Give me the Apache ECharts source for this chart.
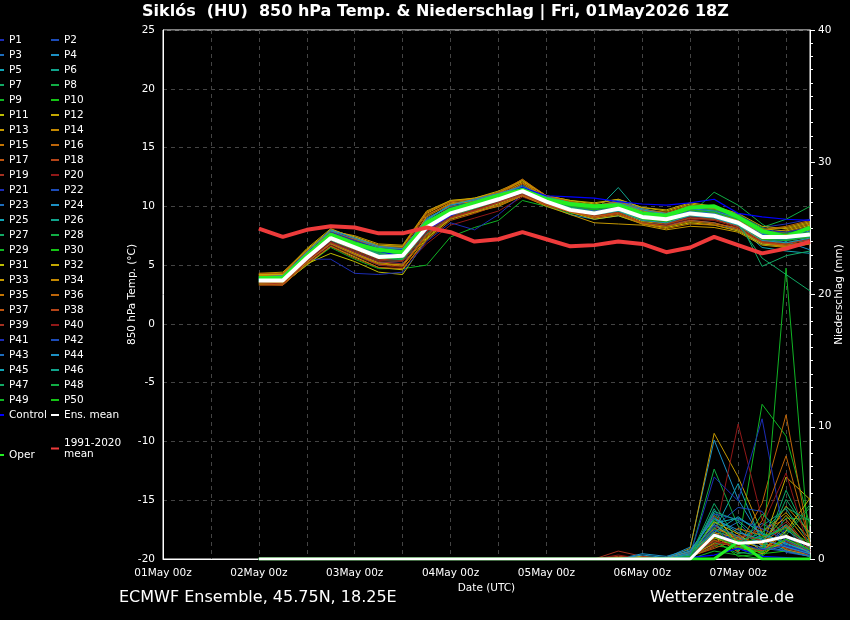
<!DOCTYPE html>
<html><head><meta charset="utf-8">
<script src="https://cdn.jsdelivr.net/npm/echarts@6/dist/echarts.min.js"></script>
<style>html,body{margin:0;padding:0;background:#000}#c{width:850px;height:620px}</style>
</head><body><div id="c"></div>
<script>
// forecast hours since 01May 00z
const hours = [24,30,36,42,48,54,60,66,72,78,84,90,96,102,108,114,120,126,132,138,144,150,156,162];
const xTickLabels = ['01May 00z','02May 00z','03May 00z','04May 00z','05May 00z','06May 00z','07May 00z'];

const tempMean = [3.7,3.7,5.6,7.3,6.5,5.7,5.8,8.2,9.4,10.0,10.6,11.3,10.4,9.7,9.4,9.8,9.1,8.9,9.4,9.2,8.6,7.4,7.4,7.6];
const tempOper = [3.9,3.9,5.8,7.6,6.8,6.3,6.1,8.6,9.7,10.3,10.9,11.4,10.6,10.2,10.0,10.1,9.4,9.2,9.9,10.0,9.1,7.9,7.4,8.2];
const tempControl = [3.8,3.8,5.7,7.5,6.9,6.2,5.7,8.0,9.2,10.1,10.8,11.6,10.9,10.8,10.7,10.4,10.2,10.1,10.3,10.6,9.4,9.1,8.9,8.8];
const tempClim = [8.1,7.4,8.0,8.3,8.2,7.7,7.7,8.2,7.8,7.0,7.2,7.8,7.2,6.6,6.7,7.0,6.8,6.1,6.5,7.4,6.7,6.0,6.4,7.0];

const tempMembers = [
[3.9,3.8,5.9,7.9,7.2,6.4,6.0,8.6,9.6,10.2,10.8,11.5,10.6,10.0,9.7,9.9,9.3,9.0,9.6,9.3,8.7,7.6,7.2,7.5],
[3.6,3.6,5.4,7.0,6.1,5.2,5.3,7.8,9.2,9.9,10.5,11.2,10.3,9.5,9.1,9.6,8.8,8.6,9.1,9.0,8.4,7.2,6.9,7.1],
[4.0,4.1,6.1,8.0,7.4,6.6,6.3,9.0,10.0,10.4,11.0,11.8,10.8,10.3,10.0,10.4,9.6,9.4,9.9,9.7,8.9,7.9,7.7,8.0],
[3.5,3.5,5.2,6.8,5.9,5.0,5.1,7.6,9.0,9.6,10.3,11.0,10.1,9.3,8.9,9.2,8.6,8.4,8.8,8.6,8.0,6.8,6.6,6.9],
[4.1,4.2,6.2,7.8,7.0,6.3,6.4,8.8,10.2,10.6,11.1,11.6,10.7,10.1,9.8,10.2,9.5,9.2,9.7,9.5,8.8,7.5,7.3,7.8],
[3.7,3.6,5.6,7.4,6.6,5.8,5.9,8.3,9.5,10.1,10.7,11.4,10.5,9.8,9.5,11.6,9.2,8.5,9.4,9.1,8.5,7.3,7.1,7.4],
[3.8,3.9,5.8,7.6,6.8,6.1,6.2,8.5,9.7,10.3,10.9,11.3,10.4,9.9,9.6,10.0,9.0,8.9,9.5,9.4,8.7,7.4,7.5,7.7],
[3.6,3.7,5.5,7.2,6.4,5.6,5.6,8.1,9.3,9.9,10.6,11.2,10.2,9.6,9.3,9.7,8.9,8.7,9.3,11.2,10.1,8.5,7.2,7.0],
[3.4,3.4,5.0,6.5,5.5,4.7,4.7,5.0,7.4,8.2,8.8,10.5,10.0,9.4,9.2,9.6,8.8,8.6,9.2,9.0,8.4,7.0,7.2,7.3],
[3.9,4.0,6.0,7.7,7.0,6.4,6.2,8.7,9.9,10.4,10.9,11.6,10.7,10.0,9.7,10.1,9.2,9.1,9.7,9.6,9.0,7.9,7.6,8.0],
[3.3,3.3,5.1,6.0,5.3,4.4,4.2,7.2,9.0,9.6,10.2,11.0,10.2,9.6,9.1,9.5,8.7,8.5,9.0,8.9,8.3,7.1,6.8,7.2],
[4.2,4.3,6.4,8.1,7.3,6.6,6.6,9.4,10.4,10.7,11.2,12.1,10.9,10.5,10.3,10.6,9.9,9.6,10.2,9.9,9.3,8.1,7.9,8.4],
[4.3,4.4,6.3,7.9,7.5,6.8,6.7,9.6,10.5,10.6,11.1,12.3,10.8,10.4,10.1,10.3,9.7,9.4,10.0,9.8,9.1,8.0,8.2,8.7],
[4.1,4.2,6.0,7.5,6.7,5.9,5.7,9.2,10.3,10.5,11.0,12.2,10.6,10.2,9.9,10.4,9.8,9.3,9.9,9.6,9.0,7.7,8.0,8.5],
[3.5,3.4,5.3,6.9,6.0,5.1,5.0,7.5,9.1,9.7,10.4,11.1,10.3,9.7,9.2,9.4,8.6,8.3,8.7,8.5,8.2,7.0,6.7,7.0],
[4.0,4.1,5.9,7.4,6.7,6.0,5.9,8.9,10.0,10.2,10.8,11.9,10.6,10.1,9.8,10.2,9.4,9.1,9.6,9.4,8.6,7.5,7.8,8.3],
[4.2,4.3,6.2,7.8,7.1,6.5,6.4,9.3,10.2,10.5,11.1,12.0,10.8,10.3,10.0,10.5,9.7,9.3,9.8,9.7,9.0,7.8,7.5,8.1],
[3.6,3.5,5.4,7.1,6.3,5.5,5.4,7.9,9.2,9.8,10.4,11.3,10.4,9.7,9.3,9.6,8.9,8.8,9.2,9.1,8.5,7.2,6.5,6.9],
[3.7,3.6,5.7,7.3,6.5,5.7,5.6,8.0,9.3,9.9,10.5,11.2,10.3,9.6,9.4,9.8,9.0,8.7,9.3,9.2,8.6,7.1,6.4,6.8],
[3.3,3.3,5.2,6.7,5.8,5.0,4.8,6.8,8.4,9.0,9.6,10.8,10.1,9.5,9.0,9.4,8.6,8.4,8.9,8.8,8.2,6.9,6.6,7.1],
[3.8,3.7,5.5,5.5,4.3,4.2,4.4,7.0,8.6,8.0,9.3,11.0,10.6,10.2,10.0,10.3,9.5,9.3,9.8,10.0,9.3,8.2,8.5,8.9],
[3.9,3.8,5.8,7.7,6.9,6.2,6.1,8.4,9.6,10.2,10.7,11.4,10.6,10.0,9.6,9.9,9.2,9.0,9.5,9.3,8.7,7.5,7.4,7.6],
[3.7,3.8,5.7,7.6,6.8,6.0,5.8,8.3,9.5,10.2,10.7,11.3,10.5,9.9,9.5,9.7,9.1,8.9,9.4,9.1,8.6,7.3,6.9,7.2],
[4.0,4.0,6.1,7.9,7.2,6.5,6.3,8.8,10.1,10.5,11.0,11.6,10.8,10.3,9.9,10.5,9.8,9.4,9.8,9.5,8.9,7.7,7.0,6.3],
[3.6,3.6,5.5,7.3,6.5,5.6,5.5,8.0,9.3,10.0,10.6,11.2,10.4,9.8,9.4,9.7,9.0,8.8,9.3,9.0,8.3,6.5,6.2,6.0],
[3.8,3.8,5.7,7.5,6.7,6.0,5.9,8.4,9.6,10.1,10.7,11.4,10.5,9.9,9.6,10.0,9.3,9.0,9.6,9.4,8.8,7.6,7.3,7.5],
[3.5,3.6,5.5,7.1,6.2,5.4,5.3,7.7,9.1,9.8,10.4,11.1,10.3,9.7,9.3,9.6,8.9,8.7,9.3,9.2,8.9,4.9,5.8,6.2],
[3.9,4.0,5.9,7.6,6.9,6.3,6.2,8.6,9.8,10.3,10.8,11.5,10.6,10.1,9.8,10.1,9.3,9.2,9.8,9.7,9.2,8.2,8.9,10.0],
[3.7,3.7,5.6,7.4,6.6,5.8,5.8,8.2,9.4,10.0,10.6,11.3,10.4,9.8,9.4,9.8,9.1,8.9,9.4,9.2,8.6,7.4,7.3,7.6],
[3.8,3.8,5.8,7.5,6.7,5.9,6.0,8.4,9.6,10.1,10.7,11.4,10.5,9.8,9.5,9.9,9.2,9.0,9.5,9.3,8.7,7.5,7.4,7.7],
[3.4,3.4,5.0,6.6,5.7,4.8,4.6,7.3,8.9,9.5,10.1,10.9,10.2,9.5,8.9,9.2,8.5,8.2,8.6,8.4,7.9,6.8,6.6,6.9],
[4.2,4.2,6.3,8.0,7.4,6.7,6.6,9.5,10.5,10.7,11.3,12.2,10.9,10.5,10.2,10.6,9.9,9.7,10.3,10.0,9.4,8.3,8.1,8.6],
[3.5,3.5,5.2,6.9,6.0,5.2,5.0,7.6,9.0,9.5,10.0,10.9,10.0,9.3,8.6,8.5,8.4,8.0,8.3,8.2,7.8,6.7,6.5,6.8],
[4.1,4.1,6.0,7.6,6.9,6.2,6.1,9.1,10.2,10.4,10.9,12.0,10.7,10.2,9.9,10.3,9.6,9.2,9.7,9.5,8.8,7.7,7.6,8.0],
[3.6,3.5,5.3,6.8,5.9,5.1,4.9,7.4,9.0,9.6,10.3,11.0,10.2,9.6,9.0,9.3,8.5,8.1,8.5,8.4,8.0,6.9,6.6,6.9],
[4.3,4.3,6.2,7.8,7.2,6.6,6.5,9.5,10.4,10.6,11.2,12.3,10.9,10.4,10.0,10.4,9.7,9.5,10.1,9.8,9.2,8.0,8.3,8.8],
[3.4,3.3,5.1,6.6,5.6,4.8,4.7,7.1,8.8,9.4,10.1,10.9,10.1,9.5,9.1,9.4,8.6,8.3,8.8,8.6,8.1,6.9,6.7,7.0],
[3.9,4.0,5.8,7.4,6.6,5.9,5.8,8.6,9.8,10.2,10.8,11.6,10.5,10.0,9.6,10.0,9.3,9.0,9.5,9.3,8.7,7.4,7.4,7.8],
[3.5,3.4,5.3,6.9,6.1,5.3,5.1,7.6,9.0,9.6,10.3,11.0,10.2,9.6,9.2,9.5,8.8,8.5,9.0,8.9,8.3,7.0,6.8,7.2],
[3.6,3.6,5.4,7.0,6.2,5.4,5.3,7.8,9.1,9.7,10.4,11.1,10.3,9.7,9.3,9.7,9.0,8.6,9.1,9.0,8.5,7.1,6.9,7.3],
[3.9,3.9,5.9,7.8,7.1,6.4,6.3,8.7,9.9,10.4,10.9,11.6,10.8,10.2,9.9,10.1,9.5,9.3,9.8,9.6,9.1,8.0,7.8,8.2],
[3.7,3.7,5.6,7.5,6.6,5.8,5.7,8.1,9.4,10.1,10.6,11.3,10.4,9.9,9.5,9.8,9.0,8.8,9.4,9.2,8.5,7.3,7.1,7.4],
[3.8,3.9,5.8,7.7,6.9,6.1,6.0,8.5,9.7,10.3,10.8,11.4,10.6,10.0,9.6,10.0,9.4,9.1,9.6,9.4,8.7,7.6,7.3,7.6],
[4.0,4.1,6.1,8.0,7.3,6.6,6.4,8.9,10.1,10.6,11.1,11.7,10.8,10.3,9.9,10.3,9.7,9.3,9.8,9.6,9.0,7.7,7.5,7.9],
[3.6,3.7,5.5,7.3,6.4,5.6,5.5,8.0,9.3,9.9,10.5,11.2,10.3,9.7,9.3,9.6,8.8,8.6,9.2,9.0,8.4,7.1,6.9,7.3],
[3.7,3.8,5.7,7.5,6.7,5.9,5.8,8.3,9.5,10.1,10.6,11.3,10.5,9.9,9.5,9.9,9.2,8.9,9.5,9.3,8.7,7.4,7.2,7.5],
[3.8,3.8,5.7,7.4,6.7,6.0,5.9,8.4,9.6,10.2,10.7,11.4,10.5,9.9,9.5,9.8,9.1,8.9,9.5,9.6,8.5,5.6,4.2,2.8],
[3.7,3.6,5.6,7.3,6.5,5.7,5.6,8.2,9.4,10.0,10.6,11.3,10.4,9.8,9.4,9.8,9.1,8.8,9.4,9.2,8.6,7.3,7.5,7.8],
[3.9,3.9,5.9,7.6,6.8,6.1,6.1,8.5,9.7,10.2,10.8,11.5,10.6,10.0,9.7,10.0,9.3,9.1,9.7,9.5,8.9,7.8,7.7,8.1],
[3.6,3.6,5.5,7.2,6.4,5.6,5.5,8.0,9.3,9.9,10.5,11.2,10.3,9.7,9.3,9.7,8.9,8.7,9.3,9.1,8.5,7.2,7.1,7.4]
];

const precipMean = [0,0,0,0,0,0,0,0,0,0,0,0,0,0,0,0,0,0,0,1.8,1.2,1.3,1.7,1.05];
const precipOper = [0,0,0,0,0,0,0,0,0,0,0,0,0,0,0,0,0,0,0,0,1.3,0,0,0];
const precipControl = [0,0,0,0,0,0,0,0,0,0,0,0,0,0,0,0,0,0,0.1,0.3,0.8,0.2,0.1,0];

const precipMembers = [
[0,0,0,0,0,0,0,0,0,0,0,0,0,0,0,0,0,0,0.2,2.5,1.5,0.8,1.2,0.4],
[0,0,0,0,0,0,0,0,0,0,0,0,0,0,0,0,0,0,0.4,3.2,0.6,1.9,0.5,0.2],
[0,0,0,0,0,0,0,0,0,0,0,0,0,0,0,0,0.1,0,0.3,1.8,2.8,0.9,2.2,1.0],
[0,0,0,0,0,0,0,0,0,0,0,0,0,0,0,0,0,0.1,0.9,9.0,4.5,1.5,1.0,0.5],
[0,0,0,0,0,0,0,0,0,0,0,0,0,0,0,0,0,0,0.5,2.1,5.7,1.2,0.7,0.3],
[0,0,0,0,0,0,0,0,0,0,0,0,0,0,0,0,0,0,0.2,3.5,1.0,2.5,3.8,1.2],
[0,0,0,0,0,0,0,0,0,0,0,0,0,0,0,0,0,0,0.1,2.9,0.5,0.3,5.2,1.5],
[0,0,0,0,0,0,0,0,0,0,0,0,0,0,0,0,0,0,0.3,6.8,2.5,1.0,2.0,4.1],
[0,0,0,0,0,0,0,0,0,0,0,0,0,0,0,0,0,0,0.2,1.2,1.0,11.7,9.3,2.5],
[0,0,0,0,0,0,0,0,0,0,0,0,0,0,0,0,0,0,0,1.5,0.2,0.4,0.6,0.2],
[0,0,0,0,0,0,0,0,0,0,0,0,0,0,0,0.1,0.2,0,0.6,2.0,1.1,0.6,1.5,0.6],
[0,0,0,0,0,0,0,0,0,0,0,0,0,0,0,0,0,0,0.4,2.6,1.3,0.9,6.2,4.5],
[0,0,0,0,0,0,0,0,0,0,0,0,0,0,0,0,0.1,0,0.8,9.5,6.2,2.0,3.5,1.5],
[0,0,0,0,0,0,0,0,0,0,0,0,0,0,0,0,0,0.1,0.3,1.7,0.8,0.5,2.6,0.9],
[0,0,0,0,0,0,0,0,0,0,0,0,0,0,0,0,0,0,0.2,2.3,1.7,1.1,0.9,0.3],
[0,0,0,0,0,0,0,0,0,0,0,0,0,0,0,0,0,0,0.1,1.4,0.9,4.2,10.9,1.0],
[0,0,0,0,0,0,0,0,0,0,0,0,0,0,0,0,0,0,0.3,1.1,1.6,2.2,3.0,0.7],
[0,0,0,0,0,0,0,0,0,0,0,0,0,0,0,0.2,0.1,0,0.2,0.9,2.0,1.4,0.8,0.4],
[0,0,0,0,0,0,0,0,0,0,0,0,0,0,0,0.6,0.2,0,0.4,1.6,1.1,0.7,1.3,0.5],
[0,0,0,0,0,0,0,0,0,0,0,0,0,0,0,0,0,0,0.2,1.5,10.2,3.0,1.0,0.3],
[0,0,0,0,0,0,0,0,0,0,0,0,0,0,0,0,0,0,0.3,6.2,4.4,10.6,1.0,0.5],
[0,0,0,0,0,0,0,0,0,0,0,0,0,0,0,0,0,0,0.4,2.4,3.9,3.6,0.9,0.4],
[0,0,0,0,0,0,0,0,0,0,0,0,0,0,0,0,0.1,0,0.5,1.9,1.3,2.7,1.6,0.8],
[0,0,0,0,0,0,0,0,0,0,0,0,0,0,0,0,0.4,0.2,0.7,3.0,2.2,1.0,0.6,0.2],
[0,0,0,0,0,0,0,0,0,0,0,0,0,0,0,0,0.1,0,0.3,2.7,3.1,2.0,1.1,0.6],
[0,0,0,0,0,0,0,0,0,0,0,0,0,0,0,0,0,0,0.2,3.8,0.7,1.6,2.4,0.3],
[0,0,0,0,0,0,0,0,0,0,0,0,0,0,0,0,0,0,0.1,2.2,1.4,0.5,4.5,1.9],
[0,0,0,0,0,0,0,0,0,0,0,0,0,0,0,0,0,0,0.2,1.3,0.4,0.8,3.1,3.0],
[0,0,0,0,0,0,0,0,0,0,0,0,0,0,0,0,0,0,0,0.6,0.3,0,22.0,0],
[0,0,0,0,0,0,0,0,0,0,0,0,0,0,0,0,0,0,0.1,1.0,0.8,0.2,1.8,0.6],
[0,0,0,0,0,0,0,0,0,0,0,0,0,0,0,0,0,0,0.3,2.8,1.9,0.6,2.1,4.6],
[0,0,0,0,0,0,0,0,0,0,0,0,0,0,0,0,0,0,0.2,1.6,0.9,1.3,3.3,1.1],
[0,0,0,0,0,0,0,0,0,0,0,0,0,0,0,0,0,0.1,0.5,3.3,1.2,0.4,1.4,0.5],
[0,0,0,0,0,0,0,0,0,0,0,0,0,0,0,0,0,0,0.2,2.0,1.6,1.1,4.0,2.0],
[0,0,0,0,0,0,0,0,0,0,0,0,0,0,0,0,0,0,0.1,1.2,2.3,1.8,0.7,0.3],
[0,0,0,0,0,0,0,0,0,0,0,0,0,0,0,0,0,0,0.3,1.8,0.5,2.9,7.8,1.2],
[0,0,0,0,0,0,0,0,0,0,0,0,0,0,0,0,0,0,0.2,0.8,1.5,1.2,2.5,0.6],
[0,0,0,0,0,0,0,0,0,0,0,0,0,0,0,0.1,0,0,0.4,1.4,0.9,0.6,1.9,0.4],
[0,0,0,0,0,0,0,0,0,0,0,0,0,0,0,0,0.1,0,0.2,1.0,1.8,1.4,2.8,0.7],
[0,0,0,0,0,0,0,0,0,0,0,0,0,0,0,0.3,0,0,0.3,1.3,1.0,2.5,6.5,0.5],
[0,0,0,0,0,0,0,0,0,0,0,0,0,0,0,0,0,0,0.2,2.2,1.2,0.7,1.0,0.3],
[0,0,0,0,0,0,0,0,0,0,0,0,0,0,0,0,0,0,0.3,3.4,3.0,2.3,1.4,0.6],
[0,0,0,0,0,0,0,0,0,0,0,0,0,0,0,0,0,0,0.5,2.6,1.7,0.8,0.6,0.2],
[0,0,0,0,0,0,0,0,0,0,0,0,0,0,0,0,0.3,0.1,0.6,3.1,2.0,1.5,0.9,0.4],
[0,0,0,0,0,0,0,0,0,0,0,0,0,0,0,0,0,0,0.4,2.0,3.2,1.9,1.2,0.5],
[0,0,0,0,0,0,0,0,0,0,0,0,0,0,0,0,0,0,0.3,3.6,2.9,1.4,2.6,0.8],
[0,0,0,0,0,0,0,0,0,0,0,0,0,0,0,0,0,0,0.2,4.2,1.3,2.0,3.9,2.9],
[0,0,0,0,0,0,0,0,0,0,0,0,0,0,0,0,0,0,0.1,2.4,0.6,3.4,1.8,3.9],
[0,0,0,0,0,0,0,0,0,0,0,0,0,0,0,0,0,0,0.2,3.0,1.1,1.7,2.3,1.2],
[0,0,0,0,0,0,0,0,0,0,0,0,0,0,0,0,0,0,0.1,1.7,0.9,0.5,1.5,0.7]
];

const memberPalette = ['#1c2cb4','#1c4cb8','#1c6cbc','#1c90c4','#10a4b4','#10a48c','#10a864','#10ac44','#10b424','#14c414',
                       '#bcbc00','#c4a800','#c49800','#c48800','#c47400','#bc6408','#bc5410','#b44418','#a43020','#901818'];

const FONT = 'DejaVu Sans';
const chart = echarts.init(document.getElementById('c'), null, {renderer:'canvas'});

function pts(v){ return hours.map((h,i)=>[h, v[i]]); }
const series = [];
const names = [];
for (let k=0;k<50;k++){
  const nm = 'P'+(k+1); names.push(nm);
  const col = memberPalette[k%20];
  series.push({name:nm,type:'line',yAxisIndex:1,data:pts(precipMembers[k]),symbol:'none',color:col,lineStyle:{width:1,color:col},z:2,silent:true});
}
for (let k=0;k<50;k++){
  const nm = 'P'+(k+1);
  const col = memberPalette[k%20];
  series.push({name:nm,type:'line',yAxisIndex:0,data:pts(tempMembers[k]),symbol:'none',color:col,lineStyle:{width:1,color:col},z:3,silent:true});
}
series.push({name:'Control',type:'line',yAxisIndex:1,data:pts(precipControl),symbol:'none',color:'#0000ff',lineStyle:{width:1.2,color:'#0000ff'},z:4});
series.push({name:'Control',type:'line',yAxisIndex:0,data:pts(tempControl),symbol:'none',color:'#0000ff',lineStyle:{width:1.2,color:'#0000ff'},z:4});
series.push({name:'Oper',type:'line',yAxisIndex:1,data:pts(precipOper),symbol:'none',color:'#22ee22',lineStyle:{width:3,color:'#22ee22'},z:5});
series.push({name:'Oper',type:'line',yAxisIndex:0,data:pts(tempOper),symbol:'none',color:'#22ee22',lineStyle:{width:4,color:'#22ee22'},z:5});
series.push({name:'Ens. mean',type:'line',yAxisIndex:1,data:pts(precipMean),symbol:'none',color:'#ffffff',lineStyle:{width:3,color:'#ffffff'},z:6});
series.push({name:'Ens. mean',type:'line',yAxisIndex:0,data:pts(tempMean),symbol:'none',color:'#ffffff',lineStyle:{width:4,color:'#ffffff'},z:6});
series.push({name:'1991-2020 mean',type:'line',yAxisIndex:0,data:pts(tempClim),symbol:'none',color:'#ee3b3b',lineStyle:{width:4,color:'#ee3b3b'},z:7});

const odd = names.filter((n,i)=>i%2===0).concat(['Control']);
const even = names.filter((n,i)=>i%2===1).concat(['Ens. mean']);
const legTxt = {color:'#fff',fontSize:10.5,fontFamily:FONT,lineHeight:13};
const legBase = {orient:'vertical',icon:'rect',itemWidth:8,itemHeight:2,itemGap:2,padding:0,textStyle:legTxt,selectedMode:false};

const gridLine = {color:'#444',type:[4,4],width:1};
const option = {
  backgroundColor:'#000',
  animation:false,
  textStyle:{fontFamily:FONT},
  title:[
    {text:'Siklós  (HU)  850 hPa Temp. & Niederschlag | Fri, 01May2026 18Z',left:142,top:4,padding:0,
     textStyle:{color:'#fff',fontSize:16,fontWeight:'bold',fontFamily:FONT}},
    {text:'ECMWF Ensemble, 45.75N, 18.25E',left:119,top:590,padding:0,
     textStyle:{color:'#fff',fontSize:16,fontWeight:'normal',fontFamily:FONT}},
    {text:'Wetterzentrale.de',right:56,top:590,padding:0,
     textStyle:{color:'#fff',fontSize:16,fontWeight:'normal',fontFamily:FONT}}
  ],
  legend:[
    Object.assign({},legBase,{data:odd,left:-4,top:33.5}),
    Object.assign({},legBase,{data:even,left:51,top:33.5}),
    Object.assign({},legBase,{data:['Oper'],left:-4,top:448.5}),
    Object.assign({},legBase,{data:['1991-2020 mean'],left:51,top:437.5,
      formatter:()=>'1991-2020\nmean',textStyle:Object.assign({},legTxt,{lineHeight:11})})
  ],
  grid:{left:163,right:40,top:30,bottom:61,show:true,borderColor:'#fff',borderWidth:1,
        containLabel:false,outerBoundsMode:'none'},
  xAxis:{type:'value',min:0,max:162,interval:12,
    name:'Date (UTC)',nameLocation:'middle',nameGap:24,nameMoveOverlap:false,
    nameTextStyle:{color:'#fff',fontSize:10.5,fontFamily:FONT},
    axisLine:{show:true,onZero:false,lineStyle:{color:'#fff'}},axisTick:{show:false},
    axisLabel:{color:'#fff',fontSize:10.5,fontFamily:FONT,margin:9,showMaxLabel:false,
      formatter:v=>(v%24===0 ? xTickLabels[v/24] : '')},
    splitLine:{show:true,lineStyle:gridLine}},
  yAxis:[
    {type:'value',min:-20,max:25,interval:5,position:'left',
     name:'850 hPa Temp. (°C)',nameLocation:'middle',nameGap:25,nameMoveOverlap:false,
     nameTextStyle:{color:'#fff',fontSize:10.5,fontFamily:FONT},
     axisLine:{show:true,onZero:false,lineStyle:{color:'#fff'}},axisTick:{show:false},
     axisLabel:{color:'#fff',fontSize:10.5,fontFamily:FONT,margin:8},
     splitLine:{show:true,lineStyle:gridLine}},
    {type:'value',min:0,max:40,interval:10,position:'right',
     name:'Niederschlag (mm)',nameLocation:'middle',nameGap:24,nameRotate:90,nameMoveOverlap:false,
     nameTextStyle:{color:'#fff',fontSize:10.5,fontFamily:FONT},
     axisLine:{show:true,onZero:false,lineStyle:{color:'#fff'}},
     axisTick:{show:true,inside:false,length:5,lineStyle:{color:'#fff'}},
     minorTick:{show:true,splitNumber:10,length:3,lineStyle:{color:'#fff'}},
     axisLabel:{color:'#fff',fontSize:10.5,fontFamily:FONT,margin:8},
     splitLine:{show:false}}
  ],
  series:series
};
chart.setOption(option);
</script>
</body></html>
